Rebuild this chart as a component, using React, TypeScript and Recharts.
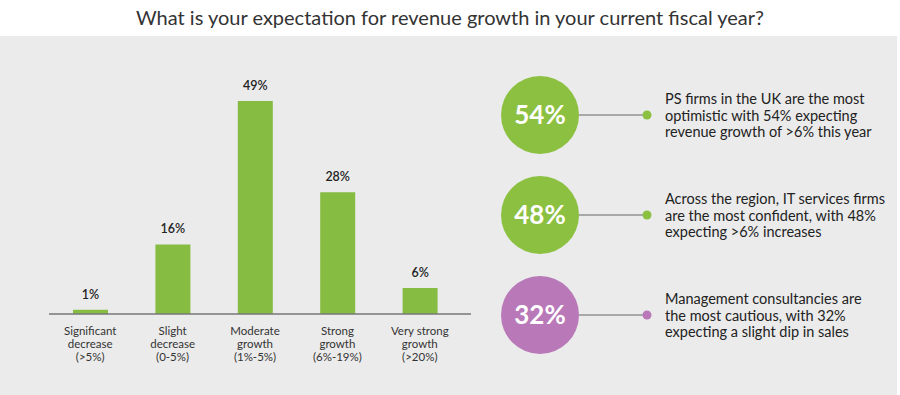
import { BarChart, Bar, XAxis, YAxis, LabelList, ScatterChart, Scatter } from 'recharts';

const categories = [
  'Significant\ndecrease\n(>5%)',
  'Slight\ndecrease\n(0-5%)',
  'Moderate\ngrowth\n(1%-5%)',
  'Strong\ngrowth\n(6%-19%)',
  'Very strong\ngrowth\n(>20%)',
];
const shares = [1, 16, 49, 28, 6];

const highlightValues = [54, 48, 32];
const highlightTexts = [
  ['PS firms in the UK are the most', 'optimistic with 54% expecting', 'revenue growth of >6% this year'],
  ['Across the region, IT services firms', 'are the most confident, with 48%', 'expecting >6% increases'],
  ['Management consultancies are', 'the most cautious, with 32%', 'expecting a slight dip in sales'],
];
const highlightColors = ['#8cc041', '#8cc041', '#b978b8'];

const barData = categories.map((c, i) => ({ name: c, value: shares[i] }));
const pointData = highlightValues.map((v, i) => ({ x: 0, y: i, value: v, lines: highlightTexts[i], color: highlightColors[i] }));

const FONT = 'Lato, "Open Sans", sans-serif';

function CategoryTick({ x, y, payload }: any) {
  const lines = String(payload.value).split('\n');
  return (
    <text x={x} y={y} textAnchor="middle" fill="#333" fontSize={11.5} fontFamily={FONT}>
      {lines.map((l, i) => (
        <tspan key={i} x={x} dy={i === 0 ? 21 : 13}>{l}</tspan>
      ))}
    </text>
  );
}

function Callout({ cx, cy, payload }: any) {
  const r = 39;
  return (
    <g>
      <circle cx={cx} cy={cy} r={r} fill={payload.color} />
      <text x={cx} y={cy + 9} textAnchor="middle" fill="#fff" fontSize={26} fontWeight={700} fontFamily={FONT}>
        {payload.value}%
      </text>
      <line x1={cx + r} y1={cy} x2={cx + 107} y2={cy} stroke="#666" strokeWidth={1} />
      <circle cx={cx + 107} cy={cy} r={4.5} fill={payload.color} />
      <text x={cx + 125} y={cy - 11} fill="#222" fontSize={14.5} fontFamily={FONT}>
        {payload.lines.map((l: string, i: number) => (
          <tspan key={i} x={cx + 125} dy={i === 0 ? 0 : 16.5}>{l}</tspan>
        ))}
      </text>
    </g>
  );
}

export default function App() {
  return (
    <div style={{ position: 'absolute', left: 0, top: 0, width: 900, height: 395, background: '#fff', fontFamily: FONT }}>
      <div style={{ position: 'absolute', left: 0, top: 0, width: 900, height: 36, textAlign: 'center', lineHeight: '34px', fontSize: 20, color: '#333' }}>
        What is your expectation for revenue growth in your current fiscal year?
      </div>
      <div style={{ position: 'absolute', left: 0, top: 36, width: 897, height: 359, background: '#ebebeb' }} />
      <div style={{ position: 'absolute', left: 0, top: 36 }}>
        <BarChart width={480} height={359} data={barData} margin={{ top: 65, right: 9, bottom: 31, left: 49 }}>
          <XAxis
            dataKey="name"
            interval={0}
            height={50}
            tickLine={false}
            tickSize={0}
            tickMargin={0}
            tick={<CategoryTick />}
            axisLine={{ stroke: '#777', strokeWidth: 1.5 }}
            padding={{ left: 0, right: 10 }}
          />
          <YAxis hide domain={[0, 49]} />
          <Bar dataKey="value" fill="#86bc42" barSize={35} isAnimationActive={false}>
            <LabelList
              dataKey="value"
              position="top"
              offset={11}
              formatter={(v: any) => `${v}%`}
              style={{ fill: '#222', fontSize: 12.5, fontWeight: 600, fontFamily: FONT }}
            />
          </Bar>
        </BarChart>
      </div>
      <div style={{ position: 'absolute', left: 480, top: 36 }}>
        <ScatterChart width={417} height={359} margin={{ top: 29, right: 60, bottom: 30, left: 60 }}>
          <XAxis type="number" dataKey="x" hide domain={[0, 1]} />
          <YAxis type="number" dataKey="y" hide domain={[-0.5, 2.5]} reversed />
          <Scatter data={pointData} shape={<Callout />} isAnimationActive={false} />
        </ScatterChart>
      </div>
    </div>
  );
}
